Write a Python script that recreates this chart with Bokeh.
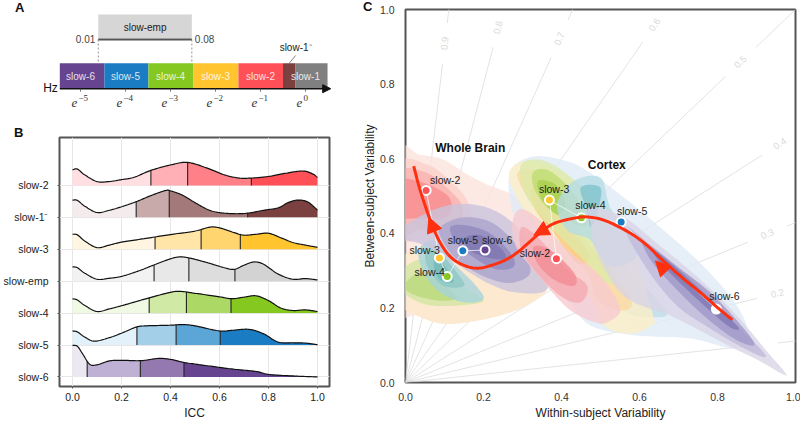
import numpy as np
from bokeh.plotting import figure
from bokeh.layouts import row, column
from bokeh.models import Arrow, NormalHead, FixedTicker, NumeralTickFormatter, Div
from bokeh.core.properties import value
from bokeh.embed import file_html
from bokeh.resources import INLINE

FONT = "Liberation Sans"

# ---------- Panel A data
band_left = [-5.46, -4.47, -3.49, -2.49, -1.49, -0.50, -0.22]
band_right = [-4.47, -3.49, -2.49, -1.49, -0.50, -0.22, 0.49]
band_colors = ["#67448f", "#1a7dc3", "#85c81f", "#ffc42e", "#ff5058", "#7b4141", "#808080"]
band_label_x = [-5, -4, -3, -2, -1, 0]
band_label_txt = ["slow-6", "slow-5", "slow-4", "slow-3", "slow-2", "slow-1"]
exponents = [-5, -4, -3, -2, -1, 0]
emp_low, emp_high = np.log(0.01), np.log(0.08)

# ---------- Panel B data
ridge_names = ["slow-6", "slow-5", "slow-4", "slow-emp", "slow-3", "slow-1\u207b", "slow-2"]
ridge_x = [
    [0, .02, .04, .07, .1, .15, .2, .28, .35, .4, .46, .55, .65, .75, .8, .9, 1],
    [0, .02, .05, .09, .15, .2, .26, .3, .4, .45, .5, .6, .65, .72, .78, .84, .9, .95, 1],
    [0, .02, .05, .1, .15, .2, .31, .4, .44, .5, .6, .65, .7, .75, .8, .85, .9, .95, 1],
    [0, .02, .05, .1, .15, .2, .27, .33, .4, .44, .48, .55, .62, .66, .7, .74, .78, .84, .9, .95, 1],
    [0, .02, .05, .1, .15, .2, .3, .4, .5, .56, .6, .66, .7, .75, .8, .85, .9, .95, 1],
    [0, .02, .05, .1, .15, .2, .26, .32, .38, .4, .45, .5, .56, .62, .7, .78, .84, .88, .92, .96, 1],
    [0, .02, .05, .1, .15, .2, .25, .32, .4, .47, .55, .62, .68, .73, .8, .87, .94, .98, 1],
]
ridge_h = [
    [.99, .96, .74, .40, .38, .50, .52, .51, .58, .55, .45, .35, .25, .17, .08, .03, 0],
    [.44, .41, .25, .12, .23, .37, .56, .60, .62, .64, .60, .44, .46, .49, .35, .09, .07, .06, .01],
    [.45, .41, .24, .05, .13, .23, .47, .65, .68, .62, .51, .45, .50, .54, .39, .16, .08, .10, .05],
    [.45, .42, .25, .06, .09, .15, .32, .50, .70, .76, .72, .58, .42, .37, .50, .60, .53, .22, .06, .08, .04],
    [.47, .45, .26, .05, .13, .22, .34, .46, .57, .69, .67, .52, .44, .47, .50, .36, .21, .13, .06],
    [.54, .53, .35, .15, .22, .33, .49, .68, .84, .83, .69, .46, .22, .13, .12, .22, .30, .46, .54, .48, .23],
    [.49, .51, .33, .12, .12, .18, .25, .47, .64, .72, .54, .33, .23, .23, .28, .38, .45, .36, .25],
]
ridge_q = [
    [.06, .277, .455], [.263, .423, .603], [.313, .465, .647], [.333, .475, .663],
    [.337, .525, .685], [.26, .395, .715], [.32, .47, .73],
]
ridge_colors = [
    ["#ece8f2", "#bfb1d4", "#9479b1", "#67448f"],
    ["#e3f1fa", "#a3cfe9", "#5ba6d6", "#1a7dc3"],
    ["#f0f9e3", "#d0e9a5", "#acd966", "#85c81f"],
    ["#f2f2f2", "#e8e8e8", "#dddddd", "#d3d3d3"],
    ["#fff5e0", "#ffe5a8", "#ffd570", "#ffc42e"],
    ["#f3ebec", "#c8aaaa", "#a47979", "#7b4141"],
    ["#ffdfe2", "#ffb0b6", "#ff8087", "#ff5058"],
]

# ---------- Panel C data
iso_icc = [.1, .2, .3, .4, .5, .6, .7, .8, .9]
iso_label_x = [.90, .954, .928, .96, .859, .639, .395, .238, .101]

blobs = [
    # whole brain slow-2 + low lobes
    ("#fbe3dc", [(-.03, .61), (.038, .61), (.098, .597), (.158, .558), (.209, .531), (.278, .50), (.33, .44), (.35, .33), (.363, .25), (.269, .188), (.115, .157), (.03, .179), (-.03, .21)]),
    ("#fde9c9", [(-.013, .329), (.073, .373), (.2, .39), (.312, .311), (.363, .25), (.269, .188), (.115, .157), (.03, .179), (-.013, .215)]),
    ("#fbcfc9", [(-.02, .585), (.056, .584), (.115, .54), (.158, .488), (.167, .425), (.115, .40), (-.02, .39)]),
    ("#f9b0ae", [(-.02, .56), (.047, .565), (.103, .525), (.147, .47), (.125, .425), (.038, .41), (-.02, .40)]),
    ("#f78c8d", [(-.02, .54), (.047, .535), (.112, .496), (.107, .445), (.03, .44), (-.02, .45)]),
    # whole brain slow-4
    ("#cfe5a0", [(-.013, .294), (.038, .329), (.098, .285), (.184, .232), (.192, .214), (.098, .205), (.038, .214), (-.013, .25)]),
    ("#b9d878", [(0, .267), (.038, .294), (.09, .267), (.132, .228), (.09, .219), (.03, .232), (0, .25)]),
    # whole brain slow-5
    ("#a5d3dc", [(.034, .355), (.073, .381), (.115, .328), (.175, .266), (.2, .224), (.15, .215), (.09, .241), (.047, .294)]),
    ("#8cc6c4", [(.051, .347), (.081, .355), (.132, .294), (.15, .259), (.098, .259), (.06, .303)]),
    ("#6fb8b5", [(.073, .329), (.094, .32), (.124, .272), (.094, .272), (.077, .294)]),
    # whole brain slow-6
    ("#c8c4dc", [(-.02, .408), (.09, .47), (.192, .474), (.278, .426), (.346, .329), (.363, .25), (.286, .241), (.21, .267), (.115, .328), (.038, .372), (-.02, .386)]),
    ("#a9a3cc", [(.09, .417), (.15, .443), (.226, .426), (.295, .355), (.32, .294), (.269, .267), (.2, .285), (.132, .329), (.094, .382)]),
    ("#8f88bd", [(.115, .417), (.158, .421), (.218, .399), (.269, .347), (.278, .311), (.235, .303), (.184, .329), (.132, .373)]),
    ("#7d74b0", [(.15, .386), (.192, .395), (.244, .36), (.256, .333), (.218, .333), (.171, .351)]),
    # cortex slow-5 outer and lower lobe
    ("#dfeaf6", [(.269, .566), (.329, .606), (.415, .593), (.474, .562), (.56, .496), (.637, .43), (.756, .32), (.85, .206), (.88, .12), (.842, .091), (.731, .118), (.585, .127), (.474, .153), (.415, .223), (.329, .329), (.274, .461)]),
    ("#bcdce8", [(.491, .364), (.568, .303), (.667, .193), (.637, .175), (.568, .188), (.509, .259), (.474, .311)]),
    # cortex slow-3
    ("#fbeec4", [(.265, .558), (.303, .593), (.372, .575), (.457, .514), (.56, .417), (.633, .188), (.629, .153), (.577, .131), (.509, .153), (.466, .241), (.363, .373), (.295, .478)]),
    ("#fbd9a0", [(.286, .558), (.329, .566), (.389, .505), (.449, .4), (.526, .294), (.58, .215), (.55, .193), (.491, .223), (.466, .294), (.389, .399), (.32, .487)]),
    ("#fdc97a", [(.33, .53), (.38, .5), (.42, .42), (.47, .34), (.44, .32), (.38, .4), (.33, .47)]),
    # cortex slow-2
    ("#f7c9cf", [(.274, .426), (.295, .465), (.346, .434), (.415, .355), (.5, .285), (.55, .2), (.526, .166), (.49, .16), (.415, .2), (.33, .3), (.285, .36)]),
    ("#f5a9b0", [(.299, .417), (.346, .382), (.415, .303), (.466, .259), (.449, .215), (.397, .232), (.329, .303), (.295, .364)]),
    ("#f28b93", [(.329, .364), (.372, .355), (.432, .294), (.432, .259), (.38, .276), (.338, .32)]),
    # cortex slow-4
    ("#dce9a8", [(.295, .58), (.346, .597), (.415, .558), (.491, .47), (.517, .329), (.543, .276), (.517, .267), (.491, .294), (.397, .39), (.312, .496)]),
    ("#bedc6f", [(.329, .566), (.372, .566), (.432, .505), (.466, .426), (.432, .426), (.363, .47), (.329, .523)]),
    ("#a8cf4a", [(.34, .54), (.385, .53), (.41, .48), (.39, .45), (.35, .49)]),
    # cortex slow-5 inner
    ("#b5dbe6", [(.389, .478), (.432, .54), (.5, .549), (.525, .47), (.594, .347), (.522, .311), (.474, .382), (.415, .408)]),
    ("#7fc3cc", [(.449, .522), (.5, .522), (.491, .452), (.474, .417), (.466, .461)]),
    # cortex slow-6
    ("#d9d3e6", [(.974, .026), (.966, .023), (.902, .061), (.833, .096), (.747, .144), (.679, .179), (.56, .232), (.491, .347), (.474, .426), (.474, .47), (.56, .443), (.645, .373), (.756, .276), (.85, .179), (.927, .083)]),
    ("#bfb8d8", [(.56, .42), (.645, .355), (.756, .258), (.842, .161), (.923, .074), (.884, .083), (.782, .144), (.696, .206), (.62, .303)]),
    ("#9f97c8", [(.611, .377), (.696, .311), (.791, .232), (.893, .109), (.85, .113), (.765, .179), (.679, .267), (.628, .329)]),
    ("#7f77b3", [(.637, .355), (.714, .289), (.825, .179), (.855, .144), (.825, .153), (.739, .232), (.654, .32)]),
]

curve_x = [.838, .8, .756, .705, .654, .619, .577, .517, .474, .44, .38, .338, .278, .226, .175, .124, .09, .064, .038, .021]
curve_y = [.168, .201, .241, .285, .333, .368, .400, .432, .443, .442, .426, .395, .342, .316, .307, .329, .373, .434, .514, .58]
arrow_start = [(.665, .30), (.359, .412), (.07, .417)]
arrow_end = [(.641, .326), (.329, .395), (.06, .443)]

pt_names = ["slow-2", "slow-3", "slow-4", "slow-5", "slow-6"]
pt_colors = ["#ff5058", "#ffc42e", "#85c81f", "#1a7dc3", "#67448f"]
wb_x = [.053, .087, .107, .147, .204]
wb_y = [.515, .334, .284, .353, .355]
ctx_x = [.387, .369, .451, .553, .797]
ctx_y = [.332, .489, .4415, .43, .197]
ctx_colors = ["#ff5058", "#ffc42e", "#85c81f", "#1a7dc3", "#ffffff"]
wb_lab_x = [.102, .049, .062, .147, .235]
wb_lab_y = [.542, .354, .295, .383, .383]
ctx_lab_x = [.332, .381, .474, .581, .818]
ctx_lab_y = [.347, .518, .475, .459, .232]


def smooth(xs, ys, closed=False, n=14):
    """Catmull-Rom drawing of read points, so that contours are not angular."""
    P = np.column_stack([xs, ys]).astype(float)
    if closed:
        P = np.vstack([P[-1], P, P[0], P[1]])
    else:
        P = np.vstack([2 * P[0] - P[1], P, 2 * P[-1] - P[-2]])
    out = []
    for i in range(1, len(P) - 2):
        t = np.linspace(0, 1, n, endpoint=False)[:, None]
        a, b, c, d = P[i - 1], P[i], P[i + 1], P[i + 2]
        out.append(.5 * (2 * b + (c - a) * t + (2 * a - 5 * b + 4 * c - d) * t ** 2 + (3 * b - a - 3 * c + d) * t ** 3))
    out = np.vstack(out)
    if not closed:
        out = np.vstack([out, P[-2]])
    return out[:, 0], out[:, 1]


def letter(txt, left, top):
    return Div(text=txt, width=16, height=14, margin=0,
               styles={"position": "absolute", "left": f"{left}px", "top": f"{top}px", "z-index": "10",
                       "font-family": FONT, "font-size": "13px", "font-weight": "bold", "color": "#111111",
                       "line-height": "13px"})


# ---------- Panel A
pa = figure(width=340, height=127, x_range=(-305 / 45, 35 / 45), y_range=(127, 0),
            output_backend="svg", toolbar_location=None, min_border=0, min_border_left=0, min_border_right=0,
            min_border_top=0, min_border_bottom=0, outline_line_color=None, x_axis_type=None, y_axis_type=None)
pa.grid.visible = False
BAR_TOP, BAR_BOTTOM, AXIS_Y = 62.7, 87.5, 88.2
pa.quad(left=[emp_low], right=[emp_high], top=[14], bottom=[38], fill_color="#d6d6d6", line_color=None)
pa.line([emp_low, emp_high], [39, 39], line_color="#555555", line_width=2)
pa.segment([emp_low, emp_high], [39, 39], [emp_low, emp_high], [BAR_TOP, BAR_TOP],
           line_color="#666666", line_width=0.7, line_dash="2 2")
pa.quad(left=band_left, right=band_right, top=BAR_TOP, bottom=BAR_BOTTOM, fill_color=band_colors, line_color=None)
pa.text(x=band_label_x, y=[76] * 6, text=band_label_txt, text_color="#ffffff", text_alpha=0.85,
        text_font=value(FONT), text_font_size="10px", text_align="center", text_baseline="middle")
pa.segment([-.22], [55], [-.36], [BAR_TOP], line_color="#444444", line_width=0.7)
pa.text(x=[-.22], y=[47], text=["slow-1\u207b"], text_color="#222222", text_font=value(FONT),
        text_font_size="10px", text_align="center", text_baseline="middle")
pa.text(x=[emp_low], y=[38], text=["0.01"], x_offset=[-3], text_color="#444444", text_font=value(FONT),
        text_font_size="10px", text_align="right", text_baseline="middle")
pa.text(x=[emp_high], y=[38], text=["0.08"], x_offset=[3], text_color="#444444", text_font=value(FONT),
        text_font_size="10px", text_align="left", text_baseline="middle")
pa.text(x=[(emp_low + emp_high) / 2], y=[27], text=["slow-emp"], text_color="#222222", text_font=value(FONT),
        text_font_size="10px", text_align="center", text_baseline="middle")
pa.line([-5.46, 0.49], [AXIS_Y, AXIS_Y], line_color="#111111", line_width=1.5)
pa.add_layout(Arrow(end=NormalHead(size=8, fill_color="#111111", line_color="#111111"),
                    x_start=.4, y_start=AXIS_Y, x_end=.56, y_end=AXIS_Y, line_color="#111111", line_width=1))
pa.segment(exponents, [AXIS_Y] * 6, exponents, [AXIS_Y + 3] * 6, line_color="#555555", line_width=0.8)
pa.text(x=exponents, y=[102] * 6, text=["e"] * 6, x_offset=[-6] * 6, text_font=value("Liberation Serif"),
        text_font_style="italic", text_font_size="13px", text_align="center", text_baseline="middle",
        text_color="#333333")
pa.text(x=exponents, y=[97] * 6, text=[str(e).replace("-", "\u2212") for e in exponents], x_offset=[-2] * 6,
        text_font=value("Liberation Serif"), text_font_size="9px", text_align="left", text_baseline="middle",
        text_color="#333333")
pa.text(x=[-5.46], y=[87], text=["Hz"], x_offset=[-2], text_font=value(FONT), text_font_size="12px",
        text_align="right", text_baseline="middle", text_color="#111111")
pa.text(x=[-6.35], y=[7], text=["A"], text_font=value(FONT), text_font_style="bold", text_font_size="13px",
        text_align="center", text_baseline="middle", text_color="#111111")

# ---------- Panel B
pb = figure(width=340, height=295, x_range=(-.053, 1.049), y_range=(-.3, 7.5),
            output_backend="svg", toolbar_location=None, min_border_left=59, min_border_right=11,
            min_border_top=10, min_border_bottom=34, outline_line_color="#555555", outline_line_width=2)
pb.grid.grid_line_color = "#e6e6e6"
pb.grid.grid_line_width = 1
pb.xaxis.ticker = FixedTicker(ticks=[0, .2, .4, .6, .8, 1.0])
pb.xaxis.formatter = NumeralTickFormatter(format="0.0")
pb.yaxis.ticker = FixedTicker(ticks=list(range(7)))
pb.yaxis.major_label_overrides = {i: n for i, n in enumerate(ridge_names)}
pb.xaxis.axis_label = "ICC"
for ax in (pb.xaxis[0], pb.yaxis[0]):
    ax.axis_line_color = None
    ax.major_tick_line_color = "#555555"
    ax.major_tick_in = 0
    ax.major_tick_out = 2
    ax.minor_tick_line_color = None
    ax.major_label_text_font = FONT
    ax.major_label_text_font_size = "10.5px"
    ax.major_label_text_color = "#222222"
pb.xaxis[0].major_label_standoff = 4
pb.yaxis[0].major_label_standoff = 9
pb.xaxis.axis_label_text_font = FONT
pb.xaxis.axis_label_text_font_size = "12px"
pb.xaxis.axis_label_text_font_style = "normal"
pb.xaxis.axis_label_text_color = "#222222"
pb.xaxis.axis_label_standoff = 2
pb.xaxis.axis_label_text_line_height = 0.3

for i in range(6, -1, -1):
    sx, sh = smooth(ridge_x[i], ridge_h[i])
    sh = np.clip(sh, 0, None)
    keep = np.r_[True, np.diff(sx) > 0]
    sx, sh = sx[keep], sh[keep]
    edges = [0.0] + ridge_q[i] + [1.0]
    for k in range(4):
        m = (sx > edges[k]) & (sx < edges[k + 1])
        bx = np.r_[edges[k], sx[m], edges[k + 1]]
        bh = np.interp(bx, sx, sh)
        pb.varea(x=bx, y1=np.full_like(bx, i), y2=i + bh, fill_color=ridge_colors[i][k], fill_alpha=1)
    qh = np.interp(ridge_q[i], sx, sh)
    pb.segment(ridge_q[i], [i] * 3, ridge_q[i], i + qh, line_color="#222222", line_width=1.1)
    pb.line(sx, i + sh, line_color="#111111", line_width=1.2)

# ---------- Panel C
pc = figure(width=460, height=422, x_range=(0, 1), y_range=(0, 1),
            output_backend="svg", toolbar_location=None, min_border_left=65, min_border_right=5,
            min_border_top=9, min_border_bottom=34, outline_line_color="#555555", outline_line_width=2)
pc.grid.visible = False
pc.xaxis.ticker = FixedTicker(ticks=[0, .2, .4, .6, .8, 1.0])
pc.yaxis.ticker = FixedTicker(ticks=[0, .2, .4, .6, .8, 1.0])
pc.xaxis.formatter = NumeralTickFormatter(format="0.0")
pc.yaxis.formatter = NumeralTickFormatter(format="0.0")
pc.xaxis.axis_label = "Within-subject Variability"
pc.yaxis.axis_label = "Between-subject Variability"
for ax in (pc.xaxis[0], pc.yaxis[0]):
    ax.axis_line_color = None
    ax.major_tick_line_color = None
    ax.minor_tick_line_color = None
    ax.major_label_text_font = FONT
    ax.major_label_text_font_size = "10.5px"
    ax.major_label_text_color = "#333333"
    ax.axis_label_text_font = FONT
    ax.axis_label_text_font_size = "12px"
    ax.axis_label_text_font_style = "normal"
    ax.axis_label_text_color = "#222222"
pc.xaxis[0].major_label_standoff = 4
pc.yaxis[0].major_label_standoff = 5
pc.xaxis[0].axis_label_standoff = 2
pc.xaxis[0].axis_label_text_line_height = 0.3
pc.yaxis[0].axis_label_standoff = 0
for icc, lx in zip(iso_icc, iso_label_x):
    slope = icc / (1 - icc)
    u = np.array([1, slope]) / np.hypot(1, slope)
    r0 = lx / u[0]
    a = u * (r0 - .055)
    b = u * (r0 + .055)
    c = u * 2
    pc.segment([0, b[0]], [0, b[1]], [a[0], c[0]], [a[1], c[1]], line_color="#dcdcdc", line_width=0.8)
    if icc > .15:
        pc.text(x=[lx], y=[lx * slope], text=[f"{icc:.1f}"], angle=[np.arctan(slope * 379 / 390)],
                text_color="#dadada", text_font=value(FONT), text_font_size="9.5px",
                text_align="center", text_baseline="middle")
for col, pts in blobs:
    xs, ys = smooth([q[0] for q in pts], [q[1] for q in pts], closed=True)
    pc.patch(xs, ys, fill_color=col, fill_alpha=0.78, line_color=None)

pc.line(wb_x, wb_y, line_color="#ffffff", line_alpha=0.7, line_width=1)
pc.line(ctx_x, ctx_y, line_color="#ffffff", line_alpha=0.7, line_width=1)
pc.scatter(wb_x + ctx_x, wb_y + ctx_y, size=9, fill_color=pt_colors + ctx_colors, line_color="#ffffff", line_width=2)
cx, cy = smooth(curve_x, curve_y)
pc.line(cx, cy, line_color="#ff3010", line_width=3)
for s, e in zip(arrow_start, arrow_end):
    pc.add_layout(Arrow(end=NormalHead(size=15, fill_color="#ff3010", line_color="#ff3010"),
                        x_start=s[0], y_start=s[1], x_end=e[0], y_end=e[1], line_color="#ff3010", line_width=1))
pc.text(x=wb_lab_x + ctx_lab_x, y=wb_lab_y + ctx_lab_y, text=pt_names + pt_names, text_color="#222222",
        text_font=value(FONT), text_font_size="10.5px", text_align="center", text_baseline="middle")
pc.text(x=[.166, .516], y=[.63, .583], text=["Whole Brain", "Cortex"], text_color="#111111", text_font=value(FONT),
        text_font_style="bold", text_font_size="12px", text_align="center", text_baseline="middle")

root = row(column(row(pa), pb, spacing=0), pc, letter("B", 14, 126), letter("C", 363, 0), spacing=0)
open("out.html", "w").write(file_html(root, INLINE))
